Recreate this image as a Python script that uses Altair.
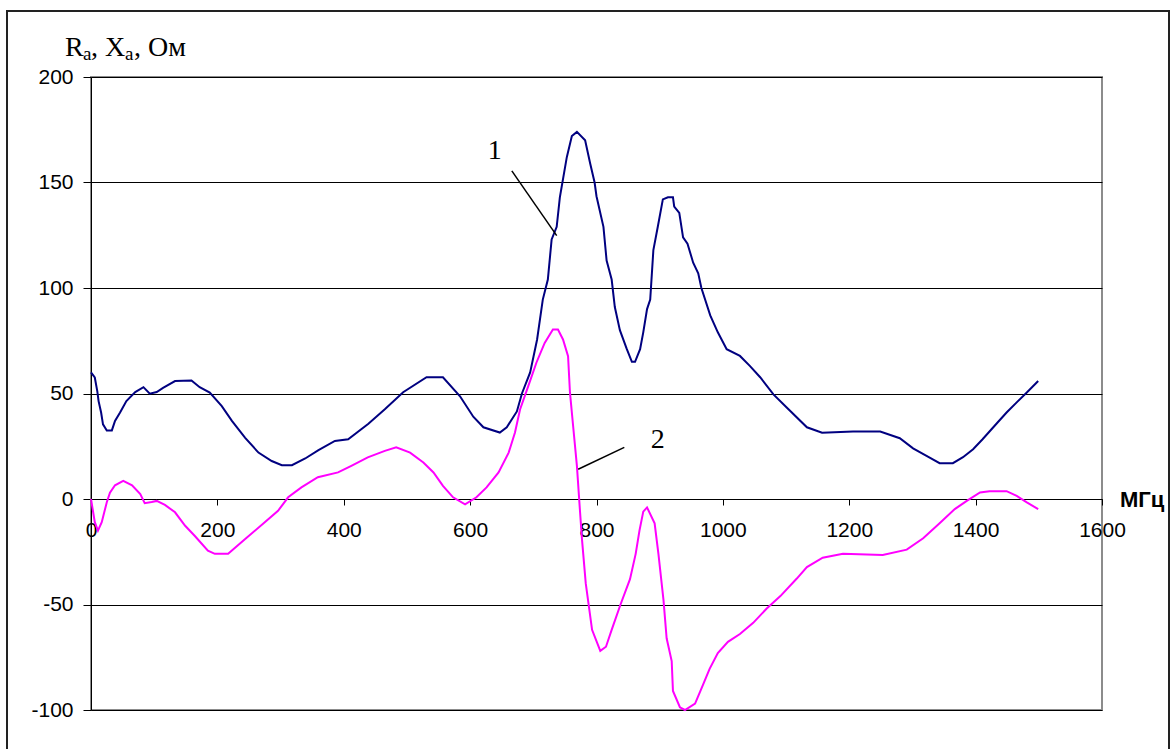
import altair as alt
import pandas as pd

# Frequency grid (MHz) and active resistance R_a (Ohm), curve 1
r_freq = [0, 6, 10, 12, 16, 19, 25, 33, 38, 46,
          56, 70, 83, 93, 104, 114, 133, 159, 172, 188,
          207, 223, 244, 265, 286, 302, 318, 339, 360, 386,
          407, 439, 465, 494, 531, 557, 584, 605, 621, 647,
          658, 674, 682, 695, 706, 715, 723, 729, 737, 742,
          753, 761, 769, 782, 790, 797, 800, 811, 816, 824,
          829, 837, 848, 856, 861, 869, 874, 880, 885, 890,
          897, 905, 913, 921, 923, 931, 937, 944, 953, 961,
          966, 980, 992, 1006, 1027, 1043, 1059, 1080, 1101, 1133,
          1157, 1206, 1249, 1280, 1301, 1328, 1343, 1364, 1380, 1396,
          1411, 1434, 1449, 1465, 1481, 1499]
r_vals = [60, 57.6, 51, 46.4, 41, 35.4, 32.5, 32.5, 37, 41,
          46.4, 50.7, 53, 49.9, 50.7, 52.7, 55.9, 56.2, 53, 50.4,
          44, 37, 29, 22, 18, 16, 16, 19.2, 23.2, 27.5,
          28.3, 35.7, 42.5, 50.6, 57.7, 57.7, 48.7, 39, 34, 31.5,
          34, 41.5, 50, 60, 75.6, 94.5, 104, 123, 129, 143,
          162, 172, 174, 170, 159, 150, 143.5, 129, 113, 104,
          91, 80, 71, 65, 65, 71, 79, 90, 94.5, 118,
          129, 142, 143, 143, 138.6, 135.6, 124, 121, 112, 107,
          100, 87, 79, 71, 67.8, 63, 57.7, 49.6, 43.4, 34,
          31.4, 32, 32, 28.8, 24, 19.5, 17, 17, 19.8, 23.6,
          28.3, 36, 41, 45.8, 50.5, 55.9]

# Reactance X_a (Ohm), curve 2
x_freq = [0, 6, 11, 17, 25, 30, 38, 51, 65, 78,
          85, 96, 104, 117, 133, 149, 164, 185, 196, 217,
          244, 275, 296, 312, 333, 359, 391, 412, 438, 465,
          483, 505, 526, 542, 557, 573, 592, 610, 626, 645,
          661, 671, 679, 692, 705, 718, 731, 739, 747, 755,
          758, 763, 769, 774, 777, 783, 793, 806, 815, 824,
          838, 853, 862, 868, 874, 880, 892, 898, 906, 911,
          919, 921, 932, 940, 956, 969, 979, 992, 1008, 1027,
          1048, 1069, 1091, 1117, 1133, 1158, 1190, 1253, 1291, 1317,
          1343, 1367, 1386, 1407, 1422, 1449, 1465, 1481, 1499]
x_vals = [0, -11, -15, -11, -1.5, 3, 6.5, 8.6, 6.5, 2.3,
          -2, -1.4, -0.9, -2.8, -6.3, -12.7, -17.4, -24.5, -26, -26,
          -19, -11, -5.6, 0.8, 5.5, 10.3, 12.6, 15.7, 19.7, 22.8,
          24.5, 22, 17.3, 12.6, 6.2, 0.8, -2.5, 0.8, 5.5, 12.6,
          22, 31.5, 42.4, 53.5, 64.7, 74, 80.3, 80.3, 75.6, 67.7,
          50.5, 34.6, 15.7, -6.3, -19, -40, -62, -72, -70, -62,
          -50, -38, -26, -15, -6, -4, -11.5, -26, -47.8, -66,
          -76.8, -91, -98.7, -100, -97, -87.7, -80.5, -73, -67.7, -64,
          -58.7, -52, -46, -37.7, -32.3, -27.8, -26, -26.5, -24, -18.6,
          -11.5, -4.8, -0.9, 3.1, 3.7, 3.7, 1.5, -1.6, -4.8]

x_ticks = [0, 200, 400, 600, 800, 1000, 1200, 1400, 1600]
y_ticks = [-100, -50, 0, 50, 100, 150, 200]

# Curve labels and their leader lines (data coordinates)
label_text = ["1", "2"]
label_f = [628, 886]
label_v = [161, 24]
lead_f = [666, 844]
lead_v = [155.5, 24.5]
lead_f2 = [737, 771]
lead_v2 = [124.8, 14.1]

SANS = "Liberation Sans"
SERIF = "Liberation Serif"

W, H = 1011, 633

r_df = pd.DataFrame({"f": r_freq, "v": r_vals})
x_df = pd.DataFrame({"f": x_freq, "v": x_vals})
lab_df = pd.DataFrame({"f": label_f, "v": label_v, "t": label_text})
lead_df = pd.DataFrame({"f": lead_f, "v": lead_v, "f2": lead_f2, "v2": lead_v2})
one = pd.DataFrame({"k": [0]})

xs = alt.Scale(domain=[0, 1600], nice=False, zero=False)
ys = alt.Scale(domain=[-100, 200], nice=False, zero=False)

# plain ASCII hyphen for negative tick labels
plain = "toString(datum.value)"

x_axis = alt.Axis(values=x_ticks, title=None, grid=False, offset=-211,
                  tickSize=6, tickColor="black", domainColor="black",
                  labelPadding=14, labelFontSize=21, labelFont=SANS,
                  labelColor="black", labelAngle=0, labelFlush=False,
                  labelOverlap=False, labelExpr=plain)
y_axis = alt.Axis(values=y_ticks, title=None, grid=True, gridColor="black",
                  gridWidth=1, tickSize=8, tickColor="black",
                  domainColor="black", labelPadding=10, labelFontSize=21,
                  labelFont=SANS, labelColor="black", labelOverlap=False,
                  labelExpr=plain)

X = alt.X("f:Q", scale=xs, axis=x_axis)
Y = alt.Y("v:Q", scale=ys, axis=y_axis)

r_line = alt.Chart(r_df).mark_line(color="#000080", strokeWidth=2).encode(x=X, y=Y)
x_line = alt.Chart(x_df).mark_line(color="#FF00FF", strokeWidth=2).encode(x=X, y=Y)

leads = alt.Chart(lead_df).mark_rule(color="black", strokeWidth=1.5).encode(
    x=X, y=Y, x2="f2:Q", y2="v2:Q"
)
labels = alt.Chart(lab_df).mark_text(
    font=SERIF, fontSize=28, align="left", baseline="alphabetic", color="black"
).encode(x=X, y=Y, text="t:N")

# Y axis title: R_a, X_a, Ом with subscripts
def piece(txt, px, py, size):
    return alt.Chart(one).mark_text(
        text=txt, font=SERIF, fontSize=size, align="left",
        baseline="alphabetic", color="black"
    ).encode(x=alt.value(px), y=alt.value(py))

y_title = (
    piece("R", -26, -21, 28)
    + piece("a", -8, -17, 19)
    + piece(", X", 0, -21, 28)
    + piece("a", 34, -17, 19)
    + piece(", Ом", 43, -21, 28)
)

unit = alt.Chart(one).mark_text(
    text="МГц", font=SANS, fontSize=22, fontWeight="bold", align="left",
    baseline="middle", color="black"
).encode(x=alt.value(1029), y=alt.value(423))

frame = alt.Chart(one).mark_rect(
    fillOpacity=0, stroke="#222222", strokeWidth=2
).encode(x=alt.value(-84), x2=alt.value(1078), y=alt.value(-66), y2=alt.value(700))

chart = alt.layer(
    r_line, x_line, leads, labels, y_title, unit, frame
).properties(
    width=W, height=H,
    padding={"left": 91, "top": 77, "right": 71, "bottom": 39},
    autosize=alt.AutoSizeParams(type="none"),
    background="white",
).configure_view(
    stroke="#8c8c8c", strokeWidth=2
)

chart.save("out.html", embed_options={"renderer": "svg", "actions": False})
